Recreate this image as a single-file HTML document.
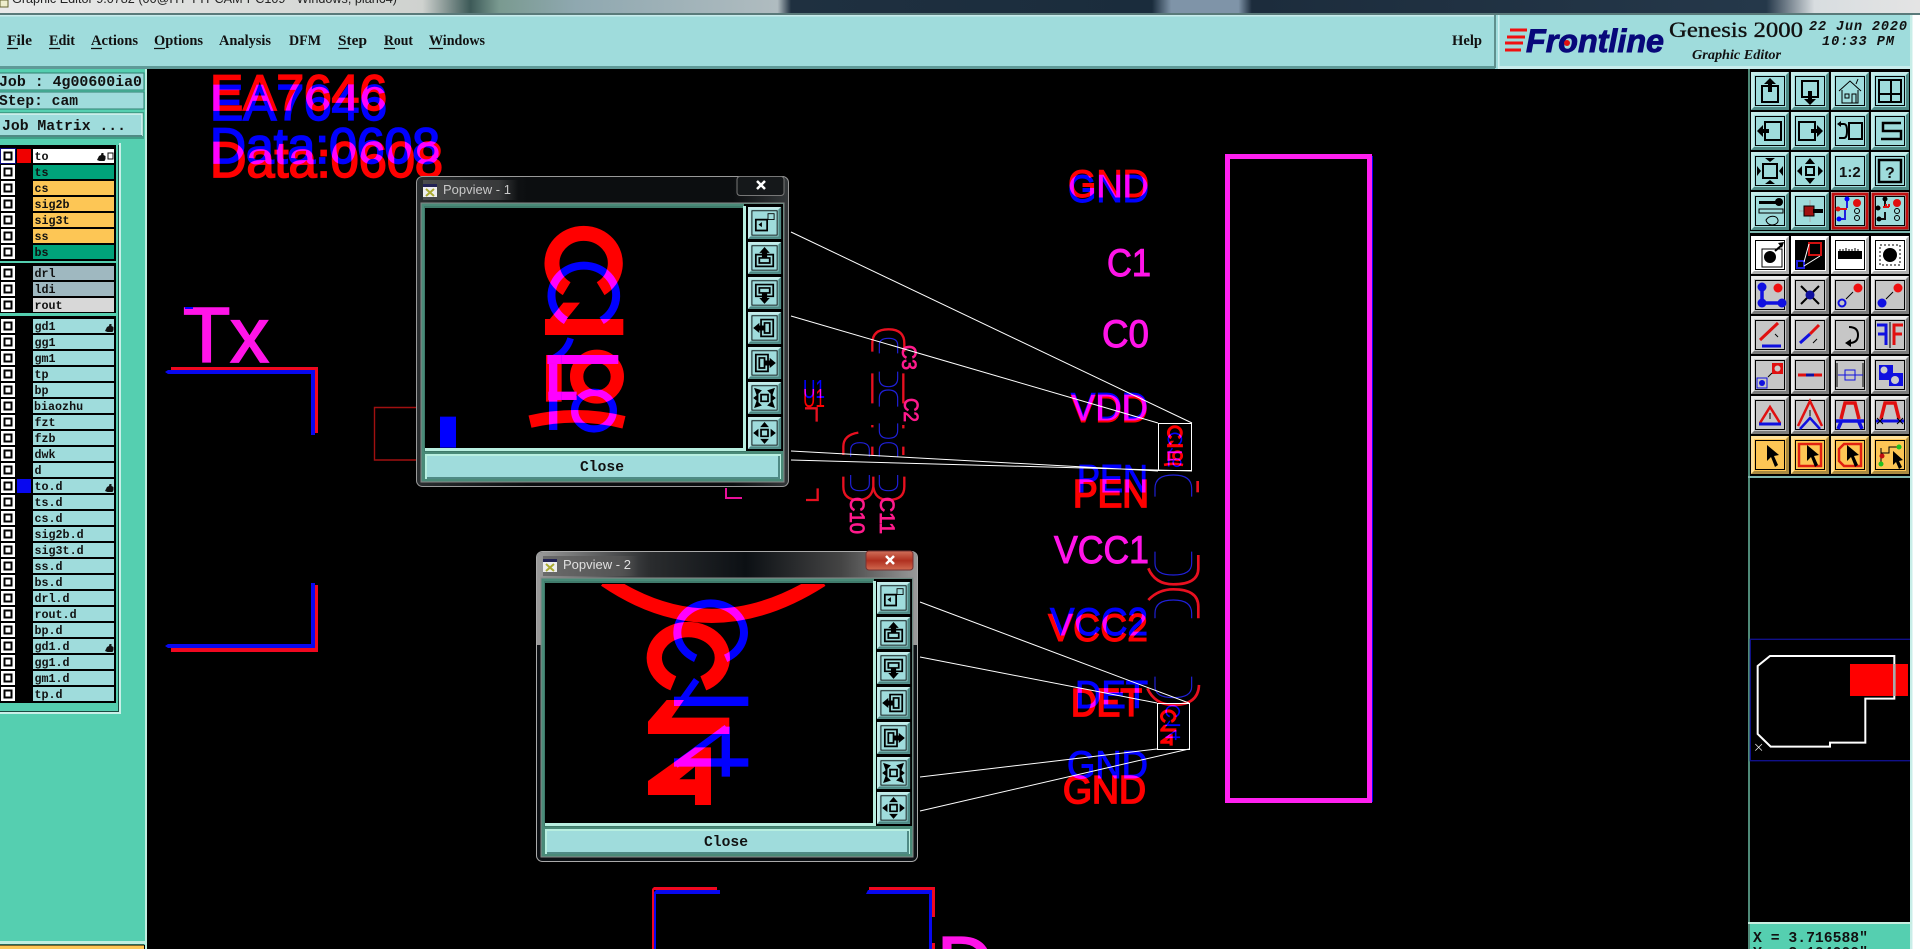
<!DOCTYPE html>
<html><head><meta charset="utf-8"><title>Genesis 2000 Graphic Editor</title>
<style>
html,body{margin:0;padding:0;background:#000;width:1920px;height:949px;overflow:hidden}
svg{display:block;position:absolute;left:0;top:0}
.m{mix-blend-mode:screen}
.sa{font-family:"Liberation Sans",sans-serif}
.mn{font-family:"Liberation Mono",monospace;font-weight:bold;font-size:11.7px;fill:#111}
.mj{font-family:"Liberation Mono",monospace;font-weight:bold;font-size:14.8px;fill:#111}
.se{font-family:"Liberation Serif",serif;font-weight:bold;font-size:15px;fill:#111}
.bt{--c:#9fdcdc;--l:#c4ecea;--d:#4f8a85}
.bg{--c:#c6c6c6;--l:#ececec;--d:#7c7c7c}
.bw{--c:#fff;--l:#fff;--d:#b0b0b0}
.bo{--c:#fdc655;--l:#ffe098;--d:#a98a40}
.k{fill:none;stroke:#000;stroke-width:2}
.k1{fill:none;stroke:#000;stroke-width:1}
.rt{fill:#f00;stroke:#f00}
.bl{fill:#00f;stroke:#00f}
.mg{fill:#ff14e8;stroke:#ff14e8}
.pk{fill:#ff1a8c;stroke:#ff1a8c;stroke-width:.8}
.hv{stroke-width:1.7}
.md{stroke-width:1}
</style></head><body>
<svg width="1920" height="949" viewBox="0 0 1920 949" xmlns="http://www.w3.org/2000/svg">
<defs>
<linearGradient id="top" x1="0" x2="1920" y1="0" y2="0" gradientUnits="userSpaceOnUse">
<stop offset="0" stop-color="#eaeaea"/><stop offset=".22" stop-color="#cfd2cf"/><stop offset=".245" stop-color="#3d5a58"/><stop offset=".26" stop-color="#7a9a90"/><stop offset=".3" stop-color="#8fa8b0"/><stop offset=".405" stop-color="#b0bcc0"/><stop offset=".412" stop-color="#1f3040"/><stop offset=".6" stop-color="#1a2c3c"/><stop offset=".61" stop-color="#7f94a8"/><stop offset=".645" stop-color="#7f94a8"/><stop offset=".652" stop-color="#1c2c3c"/><stop offset=".92" stop-color="#25384a"/><stop offset=".945" stop-color="#d8dde0"/><stop offset="1" stop-color="#e4e4e4"/>
</linearGradient>
<linearGradient id="f1" x1="0" x2="1" y1="0" y2="0"><stop offset="0" stop-color="#2a2e30"/><stop offset=".3" stop-color="#0c0e10"/><stop offset=".85" stop-color="#0c0e10"/><stop offset="1" stop-color="#34383a"/></linearGradient>
<linearGradient id="f2" x1="0" x2="1" y1="0" y2="0"><stop offset="0" stop-color="#9a9a9a"/><stop offset=".3" stop-color="#2a2c2e"/><stop offset=".55" stop-color="#0c1014"/><stop offset=".8" stop-color="#444"/><stop offset="1" stop-color="#999"/></linearGradient>
<linearGradient id="gl" x1="0" x2="1" y1="0" y2="0"><stop offset="0" stop-color="#666"/><stop offset=".8" stop-color="#555"/><stop offset="1" stop-color="#555" stop-opacity="0"/></linearGradient>
<linearGradient id="cl" x1="0" x2="0" y1="0" y2="1"><stop offset="0" stop-color="#d0705a"/><stop offset=".5" stop-color="#b03020"/><stop offset="1" stop-color="#d06a50"/></linearGradient>
<clipPath id="cp1"><rect x="425" y="208" width="318" height="240"/></clipPath>
<clipPath id="cp2"><rect x="545" y="584" width="328" height="239"/></clipPath>
<g id="cb"><rect width="14" height="14" fill="#fff"/><rect x="2.5" y="2.5" width="9" height="9" fill="#000"/><rect x="4.5" y="4.5" width="5" height="5" fill="#fff"/></g>
<g id="b"><rect width="38" height="38" style="fill:var(--c)"/><path d="M0 0H38L35 3H3V35L0 38z" style="fill:var(--l)"/><path d="M38 38H0L3 35H35V3L38 0z" style="fill:var(--d)"/><rect x="4.5" y="4.5" width="29" height="29" fill="none" stroke="#000"/></g>
<g id="g1">
<path class="m" fill="none" stroke="#f00" stroke-width="45" d="M470 356A95 90 0 1 1 572 356"/>
<path class="m" fill="none" stroke="#00f" stroke-width="24" d="M468 452A97 90 0 1 1 575 452"/>
<path class="m" fill="#f00" d="M405 447H640V495H405zM460 398H510L470 447L405 465z"/>
<path class="m" fill="none" stroke="#00f" stroke-width="20" d="M482 505Q470 545 430 565"/>
<rect class="m" fill="#f00" x="408" y="555" width="47" height="140"/>
<rect class="m" fill="#f00" x="455" y="555" width="170" height="27"/>
<rect class="m" fill="#00f" x="412" y="555" width="213" height="27"/>
<ellipse class="m" fill="none" stroke="#f00" stroke-width="40" cx="561" cy="620" rx="61" ry="61"/>
<rect class="m" fill="#f00" x="455" y="665" width="45" height="25"/>
<rect class="m" fill="#00f" x="415" y="665" width="85" height="25"/>
<rect class="m" fill="#00f" x="417" y="582" width="25" height="198"/>
<ellipse class="m" fill="none" stroke="#00f" stroke-width="22" cx="552" cy="722" rx="58" ry="55"/>
<path class="m" fill="none" stroke="#f00" stroke-width="38" d="M360 755Q500 722 642 757"/>
</g>
<g id="g2">
<path class="m" fill="none" stroke="#f00" stroke-width="46" d="M430 415A102 85 0 1 1 520 415"/>
<path class="m" fill="none" stroke="#00f" stroke-width="24" d="M497 340A100 87 0 1 1 587 340"/>
<path class="m" fill="none" stroke="#00f" stroke-width="20" d="M500 405L450 475"/>
<rect class="m" fill="#00f" x="432" y="455" width="223" height="28"/>
<path class="m" fill="#f00" d="M410 465H462L425 518H598V567H354V530z"/>
<path class="m" fill="none" stroke="#00f" stroke-width="20" d="M590 548L437 660"/>
<rect class="m" fill="#00f" x="575" y="545" width="25" height="150"/>
<rect class="m" fill="#00f" x="432" y="640" width="223" height="25"/>
<path class="m" fill="#f00" fill-rule="evenodd" d="M495 607H543V780H495V750H354V708ZM495 665L448 703H495Z"/>
</g>
<g id="pi">
<g transform="scale(.87 .84)"><use href="#b" class="bt"/><path class="k" d="M9 15h13v13H9z"/><path class="k1" d="M23 8h7v7h-7z"/><path d="M12 21l4-3v6z"/></g>
<g transform="translate(0 35) scale(.87 .84)"><use href="#b" class="bt"/><path class="k" d="M9 15h20v14H9zM13 19h12v6H13z"/><path d="M19 6l6 7h-3v6h-6v-6h-3z"/></g>
<g transform="translate(0 70) scale(.87 .84)"><use href="#b" class="bt"/><path class="k" d="M9 9h20v14H9zM13 13h12v6H13z"/><path d="M19 32l6-7h-3v-6h-6v6h-3z"/></g>
<g transform="translate(0 105) scale(.87 .84)"><use href="#b" class="bt"/><path class="k" d="M15 9h14v20H15zM19 13h6v12h-6z"/><path d="M6 19l7-6v3h6v6h-6v3z"/></g>
<g transform="translate(0 140) scale(.87 .84)"><use href="#b" class="bt"/><path class="k" d="M9 9h14v20H9zM13 13h6v12h-6z"/><path d="M32 19l-7-6v3h-6v6h6v3z"/></g>
<g transform="translate(0 175) scale(.87 .84)"><use href="#b" class="bt"/><path class="k" d="M15 15h8v8h-8z"/><path d="M7 7l9 3-6 6zM31 7l-3 9-6-6zM7 31l3-9 6 6zM31 31l-9-3 6-6z"/><path d="M6 19l6-5v10zM32 19l-6-5v10z"/></g>
<g transform="translate(0 210) scale(.87 .84)"><use href="#b" class="bt"/><path class="k" d="M15 15h8v8h-8z"/><path d="M19 6l-5 6h10zM19 32l-5-6h10zM6 19l6-5v10zM32 19l-6-5v10z"/></g>
</g>
<g id="wi"><rect width="14" height="13" fill="#eee"/><rect width="14" height="3" fill="#225"/><path d="M3 5l8 7M11 5l-8 7" stroke="#aa3" stroke-width="2"/></g>
</defs>

<!-- canvas -->
<g style="isolation:isolate">
<rect width="1920" height="949" fill="#000"/>
<text class="sa m bl hv" x="210" y="120" font-size="50" textLength="177" lengthAdjust="spacingAndGlyphs">EA7646</text>
<text class="sa m rt hv" x="210" y="110" font-size="50" textLength="177" lengthAdjust="spacingAndGlyphs">EA7646</text>
<text class="sa m bl hv" x="210" y="163" font-size="50" textLength="230" lengthAdjust="spacingAndGlyphs">Data:0608</text>
<text class="sa m rt hv" x="210" y="177" font-size="50" textLength="233" lengthAdjust="spacingAndGlyphs">Data:0608</text>
<text class="sa mg hv" x="183" y="362" font-size="78" textLength="86" lengthAdjust="spacingAndGlyphs">Tx</text>
<rect x="185" y="307" width="8" height="2" fill="#00f"/>
<!-- Tx bracket -->
<path fill="#f00820" d="M171 367H318V433H315V370H171zM315 585H318V652H171V648H315z"/>
<path fill="#0808f0" d="M165 372L168 370H315V435H311V374H168zM311 583H315V648H168L165 646L168 644H311z"/>
<path d="M416 407.5H374.5V460H416" fill="none" stroke="#a01010" stroke-width="1.4"/>
<!-- big rect -->
<rect x="1369" y="156" width="4" height="646" fill="#0000f0"/>
<rect x="1227.5" y="156.5" width="142" height="644" fill="none" stroke="#ff20f0" stroke-width="5"/>
<!-- net labels -->
<g class="sa" font-size="39">
<text class="m bl md" x="1068" y="202" textLength="81" lengthAdjust="spacingAndGlyphs">GND</text>
<text class="m rt md" x="1068" y="197" textLength="81" lengthAdjust="spacingAndGlyphs">GND</text>
<text class="mg md" x="1107" y="276" textLength="44" lengthAdjust="spacingAndGlyphs">C1</text>
<text class="mg md" x="1102" y="347" textLength="47" lengthAdjust="spacingAndGlyphs">C0</text>
<text class="m bl md" x="1071" y="420" textLength="77" lengthAdjust="spacingAndGlyphs">VDD</text>
<text class="m rt md" x="1071" y="422" textLength="77" lengthAdjust="spacingAndGlyphs">VDD</text>
<text class="m bl md" x="1077" y="492" textLength="71" lengthAdjust="spacingAndGlyphs">PEN</text>
<text class="m rt hv" x="1073" y="507" textLength="76" lengthAdjust="spacingAndGlyphs">PEN</text>
<text class="mg md" x="1054" y="563" textLength="95" lengthAdjust="spacingAndGlyphs">VCC1</text>
<text class="m bl md" x="1050" y="635" textLength="98" lengthAdjust="spacingAndGlyphs">VCC2</text>
<text class="m rt md" x="1048" y="641" textLength="100" lengthAdjust="spacingAndGlyphs">VCC2</text>
<text class="m bl md" x="1075" y="708" textLength="73" lengthAdjust="spacingAndGlyphs">DET</text>
<text class="m rt hv" x="1071" y="716" textLength="71" lengthAdjust="spacingAndGlyphs">DET</text>
<text class="m bl md" x="1067" y="778" textLength="81" lengthAdjust="spacingAndGlyphs">GND</text>
<text class="m rt hv" x="1063" y="803" textLength="83" lengthAdjust="spacingAndGlyphs">GND</text>
</g>
<!-- pads right -->
<g transform="translate(1030 400) scale(.3333)">
<g fill="none" stroke="#2020d8" stroke-width="3.5">
<path d="M375 290V265Q375 225 430 225Q485 225 485 265V290"/>
<path d="M375 455V490Q375 525 430 525Q485 525 485 490V455"/>
<path d="M375 655V640Q375 600 430 600Q485 600 485 640V655"/>
<path d="M375 830V860Q375 893 430 893Q485 893 485 860V830"/>
</g>
<g fill="none" stroke="#e81020" stroke-width="8">
<path d="M503 243V277"/>
<path d="M355 505Q375 553 430 553Q505 553 505 505V465"/>
<path d="M355 600Q385 568 430 568Q505 568 505 620V655"/>
<path d="M352 865Q375 915 430 915Q505 915 507 855"/>
</g>
</g>
<!-- pads centre -->
<g transform="translate(780 310) scale(.3333)">
<g fill="none" stroke="#2020d8" stroke-width="3.5">
<path d="M298 130V105Q298 85 325 85Q353 85 353 105V130"/>
<path d="M298 185V205Q298 230 325 230Q353 230 353 205V185"/>
<path d="M298 290V265Q298 240 325 240Q353 240 353 265V290"/>
<path d="M298 340V362Q298 385 325 385Q353 385 353 362V340"/>
<path d="M298 440V420Q298 398 325 398Q353 398 353 420V440"/>
<path d="M212 440V420Q212 398 240 398Q268 398 268 420V440"/>
<path d="M212 495V520Q212 542 240 542Q268 542 268 520V495"/>
<path d="M298 495V520Q298 542 325 542Q353 542 353 520V495"/>
</g>
<g fill="none" stroke="#e81020" stroke-width="7">
<path d="M277 125V100Q277 58 325 58Q373 58 373 100V125"/>
<path d="M277 190V280M370 190V280M277 345V352M370 345V355"/>
<path d="M277 410V435M370 410V435"/>
<path d="M190 435V410Q190 375 235 368"/>
<path d="M190 500V530Q190 570 235 570Q275 570 280 530V500"/>
<path d="M280 530Q285 570 325 570Q373 570 373 530V500"/>
<path d="M75 295H110V335M78 570H113V535"/>
</g>
</g>
<path d="M726 488V498H742" fill="none" stroke="#e8109a" stroke-width="2"/>
<g class="sa" font-size="21">
<text class="pk" transform="translate(902 345) rotate(90)" textLength="25" lengthAdjust="spacingAndGlyphs">C3</text>
<text class="pk" transform="translate(904 398) rotate(90)" textLength="24" lengthAdjust="spacingAndGlyphs">C2</text>
<text class="pk" transform="translate(850 497) rotate(90)" textLength="37" lengthAdjust="spacingAndGlyphs">C10</text>
<text class="pk" transform="translate(880 497) rotate(90)" textLength="37" lengthAdjust="spacingAndGlyphs">C11</text>
</g>
<text class="sa m" x="803" y="398" font-size="26" fill="#00f" textLength="22" lengthAdjust="spacingAndGlyphs">U1</text>
<text class="sa m" x="803" y="407" font-size="26" fill="#f00" textLength="22" lengthAdjust="spacingAndGlyphs">U1</text>
<!-- bottom bracket -->
<path fill="#f00820" d="M652 949V889L654 887H717V890H654V949zM869 887H935V917H932V890H869zM932 943H935V949H932z"/>
<path fill="#0808f0" d="M654 949V892L656 890H720V894H656V949zM866 894L868 890H932V949H929V894z"/>
<text class="sa mg hv" x="937" y="991" font-size="78">D</text>
</g>

<!-- zoom rectangles and leader lines -->
<g transform="translate(1139.7 413.9) scale(.0675)"><use href="#g1"/></g>
<g transform="translate(1136.9 694.2) scale(.066)"><use href="#g2"/></g>
<g fill="none" stroke="#fff" stroke-width="1">
<rect x="1158.5" y="423.5" width="33" height="47"/>
<rect x="1157.5" y="703.5" width="32" height="46"/>
<path d="M791 232L1192 423M791 316L1158 423M791 451L1158 471M791 460L1192 471"/>
<path d="M920 602L1189 703M920 657L1157 703M920 777L1157 749M920 811L1189 749"/>
</g>

<!-- top strip + menu -->
<rect width="1920" height="13" fill="url(#top)"/>
<rect y="13" width="1920" height="2" fill="#5a7a7a"/>
<text class="sa" x="12" y="3" font-size="13" fill="#222" textLength="385" lengthAdjust="spacingAndGlyphs">Graphic Editor 9.0782 (00@HY-TYPCAM-PC109 - Windows, plan64)</text>
<rect x="0" y="0" width="8" height="7" fill="#eec"/><rect x="0" y="0" width="8" height="7" fill="none" stroke="#663"/>
<rect y="15" width="1920" height="54" fill="#9fdcdc"/>
<rect y="15" width="1495" height="1.5" fill="#c8ecec"/>
<rect y="66" width="1495" height="3" fill="#5f9a98"/>
<rect x="1494" y="15" width="2" height="53" fill="#5f8f8d"/>
<rect x="1498" y="15" width="1.5" height="54" fill="#d0f0f0"/>
<rect x="1499" y="66" width="411" height="3" fill="#c8ecec"/>
<g class="se">
<text x="7" y="45" textLength="25" lengthAdjust="spacingAndGlyphs">File</text>
<text x="49" y="45" textLength="26" lengthAdjust="spacingAndGlyphs">Edit</text>
<text x="91" y="45" textLength="47" lengthAdjust="spacingAndGlyphs">Actions</text>
<text x="154" y="45" textLength="49" lengthAdjust="spacingAndGlyphs">Options</text>
<text x="219" y="45" textLength="52" lengthAdjust="spacingAndGlyphs">Analysis</text>
<text x="289" y="45" textLength="32" lengthAdjust="spacingAndGlyphs">DFM</text>
<text x="338" y="45" textLength="29" lengthAdjust="spacingAndGlyphs">Step</text>
<text x="384" y="45" textLength="29" lengthAdjust="spacingAndGlyphs">Rout</text>
<text x="429" y="45" textLength="56" lengthAdjust="spacingAndGlyphs">Windows</text>
<text x="1452" y="45" textLength="30" lengthAdjust="spacingAndGlyphs">Help</text>
</g>
<path stroke="#111" stroke-width="1.2" d="M7 48.5h11M49 48.5h11M91 48.5h11M154 48.5h11M338 48.5h11M384 48.5h11M429 48.5h14"/>
<!-- logo -->
<path stroke="#f01010" stroke-width="3" d="M1510 30H1527M1507 37H1525M1505 43H1523M1505 50H1521"/>
<text class="sa" x="1526" y="52" font-size="32" font-weight="bold" font-style="italic" fill="#08087a" stroke="#08087a" stroke-width=".9" textLength="138" lengthAdjust="spacingAndGlyphs">Frontline</text>
<circle cx="1567" cy="43" r="3" fill="#e01010"/>
<text x="1669" y="37" font-family="Liberation Serif,serif" font-size="22" fill="#111" stroke="#111" stroke-width=".35" textLength="134" lengthAdjust="spacingAndGlyphs">Genesis 2000</text>
<text x="1692" y="59" font-family="Liberation Serif,serif" font-size="14" font-weight="bold" font-style="italic" fill="#111" textLength="89" lengthAdjust="spacingAndGlyphs">Graphic Editor</text>
<g font-family="Liberation Mono,monospace" font-size="13.5" font-weight="bold" font-style="italic" fill="#111">
<text x="1809" y="30" textLength="98" lengthAdjust="spacing">22 Jun 2020</text>
<text x="1822" y="45" textLength="72" lengthAdjust="spacing">10:33 PM</text>
</g>
<rect x="1910" y="15" width="10" height="934" fill="#fff"/>
<rect x="1910" y="15" width="2.5" height="934" fill="#c8eee8"/>

<!-- left panel -->
<rect y="69" width="145" height="876" fill="#55cfb0"/>
<rect x="145" y="69" width="2" height="880" fill="#bfeee0"/>
<rect x="-1" y="73" width="145" height="17" fill="#9fdcdc" stroke="#2f7f70"/>
<rect x="-1" y="92" width="145" height="17" fill="#9fdcdc" stroke="#2f7f70"/>
<rect x="-2" y="112" width="146" height="27" fill="#3f9f88"/>
<rect x="-2" y="114" width="144" height="22" fill="#9fdcdc"/>
<path d="M0 114H142V136" fill="none" stroke="#d8f4f0" stroke-width="1.5"/>
<path d="M0 136H142" fill="none" stroke="#4f8a85" stroke-width="2"/>
<text class="mj" x="-1" y="86" textLength="143" lengthAdjust="spacingAndGlyphs">Job : 4g00600ia0</text>
<text class="mj" x="-1" y="105" textLength="79" lengthAdjust="spacingAndGlyphs">Step: cam</text>
<text class="mj" x="2" y="130" textLength="124" lengthAdjust="spacingAndGlyphs">Job Matrix ...</text>
<path d="M0 713H120V143" fill="none" stroke="#c8f0e8" stroke-width="2"/>
<path d="M0 711.5H118.5V145" fill="none" stroke="#1a4a40" stroke-width="1"/>
<rect x="0" y="145" width="116" height="116" fill="#000"/>
<rect x="0" y="263" width="116" height="50" fill="#000"/>
<rect x="0" y="316" width="116" height="387" fill="#000"/>
<rect y="941" width="147" height="3" fill="#bfeee0"/>
<rect x="0" y="945" width="144" height="4" fill="#fdc655"/>
<rect x="0" y="944.500" width="144" height="1" fill="#000"/>
<rect x="144" y="945" width="1" height="4" fill="#000"/>

<!-- layer rows -->
<g>
<rect x="33" y="149" width="81" height="14" fill="#fff"/>
<rect x="33" y="165" width="81" height="14" fill="#00a37a"/>
<rect x="33" y="181" width="81" height="14" fill="#fdc655"/>
<rect x="33" y="197" width="81" height="14" fill="#fdc655"/>
<rect x="33" y="213" width="81" height="14" fill="#fdc655"/>
<rect x="33" y="229" width="81" height="14" fill="#fdc655"/>
<rect x="33" y="245" width="81" height="14" fill="#00a37a"/>
<rect x="33" y="266" width="81" height="14" fill="#9fb8c0"/>
<rect x="33" y="282" width="81" height="14" fill="#9fb8c0"/>
<rect x="33" y="298" width="81" height="14" fill="#d8d8d8"/>
<path fill="#9fdcdc" d="M33 319h81v14h-81zM33 335h81v14h-81zM33 351h81v14h-81zM33 367h81v14h-81zM33 383h81v14h-81zM33 399h81v14h-81zM33 415h81v14h-81zM33 431h81v14h-81zM33 447h81v14h-81zM33 463h81v14h-81zM33 479h81v14h-81zM33 495h81v14h-81zM33 511h81v14h-81zM33 527h81v14h-81zM33 543h81v14h-81zM33 559h81v14h-81zM33 575h81v14h-81zM33 591h81v14h-81zM33 607h81v14h-81zM33 623h81v14h-81zM33 639h81v14h-81zM33 655h81v14h-81zM33 671h81v14h-81zM33 687h81v14h-81z"/>
<rect x="17" y="149" width="14" height="14" fill="#f00000"/>
<rect x="17" y="479" width="14" height="14" fill="#0808f0"/>
<rect x="0" y="148" width="16" height="16" fill="#08087a"/>
<use href="#cb" x="1" y="149"/><use href="#cb" x="1" y="165"/><use href="#cb" x="1" y="181"/><use href="#cb" x="1" y="197"/><use href="#cb" x="1" y="213"/><use href="#cb" x="1" y="229"/><use href="#cb" x="1" y="245"/>
<use href="#cb" x="1" y="266"/><use href="#cb" x="1" y="282"/><use href="#cb" x="1" y="298"/>
<use href="#cb" x="1" y="319"/><use href="#cb" x="1" y="335"/><use href="#cb" x="1" y="351"/><use href="#cb" x="1" y="367"/><use href="#cb" x="1" y="383"/><use href="#cb" x="1" y="399"/><use href="#cb" x="1" y="415"/><use href="#cb" x="1" y="431"/><use href="#cb" x="1" y="447"/><use href="#cb" x="1" y="463"/><use href="#cb" x="1" y="479"/><use href="#cb" x="1" y="495"/><use href="#cb" x="1" y="511"/><use href="#cb" x="1" y="527"/><use href="#cb" x="1" y="543"/><use href="#cb" x="1" y="559"/><use href="#cb" x="1" y="575"/><use href="#cb" x="1" y="591"/><use href="#cb" x="1" y="607"/><use href="#cb" x="1" y="623"/><use href="#cb" x="1" y="639"/><use href="#cb" x="1" y="655"/><use href="#cb" x="1" y="671"/><use href="#cb" x="1" y="687"/>
<g class="mn">
<text x="34.5" y="160">to</text><text x="34.5" y="176">ts</text><text x="34.5" y="192">cs</text><text x="34.5" y="208">sig2b</text><text x="34.5" y="224">sig3t</text><text x="34.5" y="240">ss</text><text x="34.5" y="256">bs</text>
<text x="34.5" y="277">drl</text><text x="34.5" y="293">ldi</text><text x="34.5" y="309">rout</text>
<text x="34.5" y="330">gd1</text><text x="34.5" y="346">gg1</text><text x="34.5" y="362">gm1</text><text x="34.5" y="378">tp</text><text x="34.5" y="394">bp</text><text x="34" y="410">biaozhu</text><text x="34.5" y="426">fzt</text><text x="34.5" y="442">fzb</text><text x="34.5" y="458">dwk</text><text x="34.5" y="474">d</text><text x="34.5" y="490">to.d</text><text x="34.5" y="506">ts.d</text><text x="34.5" y="522">cs.d</text><text x="34.5" y="538">sig2b.d</text><text x="34.5" y="554">sig3t.d</text><text x="34.5" y="570">ss.d</text><text x="34.5" y="586">bs.d</text><text x="34.5" y="602">drl.d</text><text x="34.5" y="618">rout.d</text><text x="34.5" y="634">bp.d</text><text x="34.5" y="650">gd1.d</text><text x="34.5" y="666">gg1.d</text><text x="34.5" y="682">gm1.d</text><text x="34.5" y="698">tp.d</text>
</g>
<path fill="#111" d="M97 160l2-4 2-1 .5-2 2 0v2l2 1v3l-1 2h-5zM105 331l2-4 2-1 .5-2 2 0v2l2 1v3l-1 2h-5zM105 491l2-4 2-1 .5-2 2 0v2l2 1v3l-1 2h-5zM105 651l2-4 2-1 .5-2 2 0v2l2 1v3l-1 2h-5z"/>
<rect x="108" y="153" width="5" height="6" fill="none" stroke="#111"/>
</g>

<!-- right side toolbar -->
<rect x="1748" y="69" width="2" height="880" fill="#4f8a78"/>
<rect x="1750" y="231" width="160" height="2" fill="#7fb8b0"/>
<rect x="1748" y="476" width="162" height="2" fill="#7fb8b0"/>
<g transform="translate(1751 72)"><use href="#b" class="bt"/><path class="k" d="M11 14h16v16H11z"/><path d="M19 6l6 6h-4v8h-4v-8h-4z"/></g>
<g transform="translate(1791 72)"><use href="#b" class="bt"/><path class="k" d="M11 9h16v16H11z"/><path d="M19 33l-6-6h4v-8h4v8h4z"/></g>
<g transform="translate(1831 72)"><use href="#b" class="bt"/><path class="k1" d="M8 19L19 9l11 10M11 18v13h16V18M14 22h4v4h-4zM21 22h4v9h-4zM25 12l2-5"/></g>
<g transform="translate(1871 72)"><use href="#b" class="bt"/><path class="k" d="M8 8h22v22H8zM8 22h22M20 8v22"/></g>
<g transform="translate(1751 112)"><use href="#b" class="bt"/><path class="k" d="M14 10h16v18H14z"/><path d="M6 19l6-6v4h6v4h-6v4z"/></g>
<g transform="translate(1791 112)"><use href="#b" class="bt"/><path class="k" d="M8 10h16v18H8z"/><path d="M32 19l-6-6v4h-6v4h6v4z"/></g>
<g transform="translate(1831 112)"><use href="#b" class="bt"/><path class="k" d="M18 11h13v16H18zM8 12h5q3 0 3 7t-3 7H8"/><path d="M6 12l4-3v6z"/></g>
<g transform="translate(1871 112)"><use href="#b" class="bt"/><path class="k" style="stroke-width:2.5" d="M30 11H12v8h18v8H10"/></g>
<g transform="translate(1751 152)"><use href="#b" class="bt"/><path class="k" d="M12 12h14v14H12z"/><path d="M19 10l-5-4h10zM19 28l-5 4h10zM10 19l-4-5v10zM28 19l4-5v10z"/></g>
<g transform="translate(1791 152)"><use href="#b" class="bt"/><path class="k" d="M15 15h8v8h-8z"/><path d="M19 6l-5 6h10zM19 32l-5-6h10zM6 19l5-5v10zM32 19l-5-5v10z"/></g>
<g transform="translate(1831 152)"><use href="#b" class="bt"/><text x="8" y="25" font-family="Liberation Sans,sans-serif" font-size="15" font-weight="bold" fill="#111">1:2</text></g>
<g transform="translate(1871 152)"><use href="#b" class="bt"/><path class="k" style="stroke-width:2.5" d="M8 8h22v22H8z"/><text x="14" y="26" font-family="Liberation Sans,sans-serif" font-size="16" font-weight="bold" fill="#111">?</text></g>
<g transform="translate(1751 192)"><use href="#b" class="bt"/><path d="M8 9h18v3H8z"/><circle cx="28" cy="10" r="4"/><path class="k1" d="M8 17h24v4H8zM15 28c3-5 11-5 12 0s-10 8-12 0z"/></g>
<g transform="translate(1791 192)"><use href="#b" class="bt"/><path stroke="#aaa" d="M8 19h22M19 8v22"/><rect x="13" y="14" width="10" height="10" fill="#a01010" stroke="#000"/><rect x="22" y="17" width="10" height="4"/></g>
<g transform="translate(1831 192)"><use href="#b" class="bt"/><rect x="2" y="2" width="34" height="34" fill="none" stroke="#c01010" stroke-width="3"/><path stroke="#2020e0" stroke-width="2" fill="none" d="M16 6V16M8 27h6V18"/><path stroke="#e01010" stroke-width="2" d="M8 17h8"/><circle cx="16" cy="7" r="2.5" fill="#00f"/><circle cx="8" cy="27" r="2.5" fill="#00f"/><circle cx="7" cy="17" r="2.5" fill="#e01010"/><circle cx="26" cy="11" r="4" fill="#e01010"/><circle cx="26" cy="19" r="2.5" class="k1"/><circle cx="26" cy="26" r="2.5" class="k1"/></g>
<g transform="translate(1871 192)"><use href="#b" class="bt"/><rect x="2" y="2" width="34" height="34" fill="none" stroke="#c01010" stroke-width="3"/><path stroke="#111" stroke-width="2" fill="none" d="M14 6V16M8 27h6V20"/><path stroke="#e01010" stroke-width="2" d="M12 15h6M15 12v3M18 12v3"/><circle cx="14" cy="7" r="2.5"/><circle cx="8" cy="27" r="2.5"/><circle cx="7" cy="16" r="2.5"/><circle cx="26" cy="11" r="4" fill="#e01010"/><circle cx="26" cy="19" r="2.5" class="k1"/><circle cx="26" cy="26" r="2.5" class="k1"/></g>

<g transform="translate(1751 236)"><use href="#b" class="bw"/><path class="k1" d="M11 13h20v18H11z"/><circle cx="19" cy="21" r="6"/><path stroke="#000" stroke-width="2" d="M24 15l7-6"/><path d="M33 6l-6 1 4 5z"/></g>
<g transform="translate(1791 236)"><use href="#b" class="bw"/><rect x="5" y="5" width="28" height="28" fill="#000"/><rect x="18" y="7" width="12" height="12" fill="none" stroke="#d01010" stroke-width="2"/><rect x="6" y="25" width="7" height="7" fill="none" stroke="#2020e0" stroke-width="2"/><path stroke="#fff" d="M13 26L18 8M13 30L29 20" fill="none"/></g>
<g transform="translate(1831 236)"><use href="#b" class="bw"/><rect x="7" y="15" width="24" height="8"/><path stroke="#000" d="M9 13v3M12 13v3M15 12v3M18 13v3M21 13v3M24 12v3M27 13v3"/></g>
<g transform="translate(1871 236)"><use href="#b" class="bw"/><path class="k1" stroke-dasharray="2 2" d="M9 9h20v20H9z"/><circle cx="19" cy="19" r="7"/></g>

<g transform="translate(1751 276)"><use href="#b" class="bg"/><path fill="none" stroke="#1010e0" stroke-width="3.5" d="M11 11V27H31"/><circle cx="11" cy="11" r="4.5" fill="#1010e0"/><circle cx="11" cy="27" r="4.5" fill="#1010e0"/><circle cx="31" cy="27" r="4.5" fill="#1010e0"/><circle cx="27" cy="12" r="4.5" fill="#f01010"/></g>
<g transform="translate(1791 276)"><use href="#b" class="bg"/><path stroke="#000" stroke-width="2" d="M10 10L28 28M28 10L10 28"/><circle cx="19" cy="19" r="4.5" fill="#1010a0"/></g>
<g transform="translate(1831 276)"><use href="#b" class="bg"/><circle cx="11" cy="27" r="3.5" fill="none" stroke="#1010e0" stroke-width="2"/><circle cx="27" cy="12" r="4.5" fill="#f01010"/><path stroke="#000" d="M15 23L22 16"/></g>
<g transform="translate(1871 276)"><use href="#b" class="bg"/><circle cx="11" cy="27" r="4.5" fill="#1010e0"/><circle cx="27" cy="12" r="4.5" fill="#f01010"/><path stroke="#000" d="M15 23L22 16"/></g>

<g transform="translate(1751 316)"><use href="#b" class="bg"/><path stroke="#e01010" stroke-width="3" d="M9 24L27 7"/><path stroke="#1010e0" stroke-width="3" d="M11 30H30"/><path stroke="#000" d="M27 21l-3-3"/></g>
<g transform="translate(1791 316)"><use href="#b" class="bg"/><path stroke="#1010e0" stroke-width="3" d="M9 27L19 18"/><path stroke="#e01010" stroke-width="3" d="M19 18L28 9"/><path stroke="#000" d="M22 27l4-4"/></g>
<g transform="translate(1831 316)"><use href="#b" class="bg"/><path class="k" d="M18 11q9 0 9 8t-9 8"/><path d="M14 27l6-4v8z"/></g>
<g transform="translate(1871 316)"><use href="#b" class="bg"/><path stroke="#000" d="M19 6v26"/><path fill="none" stroke="#e01010" stroke-width="3" d="M32 9H23V29M23 18h8"/><path fill="none" stroke="#1010e0" stroke-width="3" d="M6 9H15V29M15 18H7"/></g>

<g transform="translate(1751 356)"><use href="#b" class="bg"/><rect x="21" y="7" width="11" height="11" fill="#e01010"/><circle cx="26.500" cy="12.500" r="3" fill="#ccc"/><rect x="6" y="22" width="10" height="10" fill="none" stroke="#1010e0"/><circle cx="11" cy="27" r="3" fill="#1010e0"/><path stroke="#000" d="M17 21l4-4"/></g>
<g transform="translate(1791 356)"><use href="#b" class="bg"/><path stroke="#e01010" stroke-width="3" d="M7 19H31"/><path stroke="#1010a0" stroke-width="3" d="M15 19H23"/></g>
<g transform="translate(1831 356)"><use href="#b" class="bg"/><path stroke="#000" d="M6 7v24M32 7v24"/><path stroke="#1010e0" fill="none" d="M7 19H32M14 14h10v10H14z"/></g>
<g transform="translate(1871 356)"><use href="#b" class="bg"/><path fill="#1010e0" d="M8 9h14v8h10v13H18v-6H8z"/><circle cx="13" cy="14" r="3.500" fill="#ccc"/><circle cx="24" cy="24" r="4" fill="#ccc"/></g>

<g transform="translate(1751 396)"><use href="#b" class="bg"/><path fill="none" stroke="#e01010" stroke-width="2.500" d="M9 27L19 11l10 16"/><path stroke="#1010e0" stroke-width="3" d="M8 28H30"/><path stroke="#000" d="M19 23v-6"/></g>
<g transform="translate(1791 396)"><use href="#b" class="bg"/><path fill="none" stroke="#e01010" stroke-width="2.500" d="M7 30L19 5l12 25"/><path fill="none" stroke="#1010e0" stroke-width="2.500" d="M9 33L19 22l10 11"/><path stroke="#000" d="M19 20v-6"/></g>
<g transform="translate(1831 396)"><use href="#b" class="bg"/><path fill="none" stroke="#e01010" stroke-width="3.500" d="M10 23L14 7h10l4 16"/><path stroke="#1010e0" stroke-width="3.500" d="M5 25H33M7 33L10 26M31 33L28 26"/></g>
<g transform="translate(1871 396)"><use href="#b" class="bg"/><path fill="none" stroke="#e01010" stroke-width="3.500" d="M10 23L14 7h10l4 16"/><path stroke="#1010e0" stroke-width="3" d="M5 25H33"/><path stroke="#000" d="M6 22l6 6M12 22l-6 6M26 22l6 6M32 22l-6 6"/></g>

<g transform="translate(1751 436)"><use href="#b" class="bo"/><path d="M16 9L16 25 20 21 24 31 27 29 23 20 28 19z"/></g>
<g transform="translate(1791 436)"><use href="#b" class="bo"/><rect x="8" y="8" width="22" height="22" fill="none" stroke="#e02010" stroke-width="2.500"/><path d="M16 9L16 25 20 21 24 31 27 29 23 20 28 19z"/></g>
<g transform="translate(1831 436)"><use href="#b" class="bo"/><path fill="none" stroke="#e02010" stroke-width="2.500" d="M13 8h17v22H13L8 25V13z"/><path d="M16 9L16 25 20 21 24 31 27 29 23 20 28 19z"/></g>
<g transform="translate(1871 436)"><use href="#b" class="bo"/><path fill="none" stroke="#000" d="M10 19V12M10 26V17h8V11h10"/><circle cx="11" cy="20" r="2.500" fill="#c01010"/><circle cx="10" cy="28" r="2.500" fill="#20c020"/><circle cx="28" cy="11" r="2.500" fill="#20c020"/><path d="M22 15V29L25 26 28 33 31 31 28 25 32 24z"/></g>

<!-- minimap -->
<g transform="translate(1740 600) scale(.3333)">
<path d="M510 118H31V482H510" fill="none" stroke="#10108a" stroke-width="4"/>
<rect x="330" y="192" width="174" height="96" fill="#f00"/>
<path d="M90 168H463V296H376V428H270V440H92L53 402V198Z" fill="none" stroke="#fff" stroke-width="6"/>
<path d="M463 192V288" stroke="#aaa" stroke-width="8"/>
<path d="M46 432L66 452M66 432L46 452" stroke="#fff" stroke-width="2"/>
</g>
<rect x="1748" y="922" width="164" height="2" fill="#c8eee0"/>
<rect x="1750" y="924" width="160" height="25" fill="#55cfb0"/>
<text class="mj" x="1753" y="942" textLength="115" lengthAdjust="spacingAndGlyphs">X = 3.716588"</text>
<text class="mj" x="1753" y="957" textLength="115" lengthAdjust="spacingAndGlyphs">Y = 3.104000"</text>

<!-- Popview 1 -->
<rect x="416.500" y="176.500" width="372" height="310" rx="6" fill="url(#f1)" stroke="#999"/>
<rect x="423" y="180" width="95" height="20" fill="url(#gl)" opacity=".55"/>
<rect x="737" y="176.500" width="47" height="19" rx="3" fill="#15181a" stroke="#777"/>
<path d="M757 181l8 8M765 181l-8 8" stroke="#fff" stroke-width="2.500"/>
<use href="#wi" x="423" y="184"/>
<text class="sa" x="443" y="194" font-size="13" fill="#c8c8c8">Popview - 1</text>
<rect x="421" y="203" width="363" height="279" fill="#4a8a78" stroke="#888"/>
<rect x="744" y="204" width="39" height="247" fill="#000"/>
<rect x="424" y="206" width="322" height="246" fill="#3f7a6a"/>
<rect x="743" y="206" width="3" height="245" fill="#b8efe0"/>
<rect x="425" y="448" width="321" height="3" fill="#b8efe0"/>
<rect x="425" y="208" width="318" height="240" fill="#000"/>
<g clip-path="url(#cp1)"><g transform="translate(410 170) scale(.3333)"><use href="#g1"/><rect class="m" x="90" y="740" width="48" height="93" fill="#00f"/></g></g>
<use href="#pi" x="748" y="207"/>
<rect x="425" y="454" width="356" height="25" fill="#b8efe0"/>
<rect x="427" y="456" width="353" height="23" fill="#4f8a85"/>
<rect x="427" y="456" width="351" height="21" fill="#9fdcdc"/>
<text class="mj" x="580" y="471" textLength="44" lengthAdjust="spacingAndGlyphs">Close</text>

<!-- Popview 2 -->
<rect x="536.500" y="551.500" width="381" height="310" rx="6" fill="#0c1014" stroke="#aaa"/>
<path d="M537 557Q537 552 543 552H911Q917 552 917 557V578H537z" fill="url(#f2)"/>
<path d="M537 578H541V645H537zM913 578H917V645H913z" fill="#999"/>
<rect x="543" y="556" width="95" height="20" fill="url(#gl)" opacity=".9"/>
<rect x="866" y="551" width="47" height="19" rx="3" fill="url(#cl)" stroke="#733"/>
<path d="M886 556l8 8M894 556l-8 8" stroke="#fff" stroke-width="2.500"/>
<use href="#wi" x="543" y="559"/>
<text class="sa" x="563" y="569" font-size="13" fill="#e0e0e0">Popview - 2</text>
<rect x="541" y="578" width="372" height="279" fill="#4a8a78" stroke="#888"/>
<rect x="874" y="579" width="38" height="247" fill="#000"/>
<rect x="544" y="581" width="332" height="246" fill="#3f7a6a"/>
<rect x="873" y="581" width="3" height="245" fill="#b8efe0"/>
<rect x="545" y="823" width="331" height="3" fill="#b8efe0"/>
<rect x="545" y="583" width="328" height="240" fill="#000"/>
<g clip-path="url(#cp2)"><g transform="translate(530 545) scale(.3333)"><path class="m" fill="none" stroke="#f00" stroke-width="42" d="M225 105Q540 320 875 105"/><use href="#g2"/></g></g>
<use href="#pi" x="877" y="582"/>
<rect x="545" y="829" width="365" height="25" fill="#b8efe0"/>
<rect x="547" y="831" width="362" height="23" fill="#4f8a85"/>
<rect x="547" y="831" width="360" height="21" fill="#9fdcdc"/>
<text class="mj" x="704" y="846" textLength="44" lengthAdjust="spacingAndGlyphs">Close</text>
</svg>
</body></html>
